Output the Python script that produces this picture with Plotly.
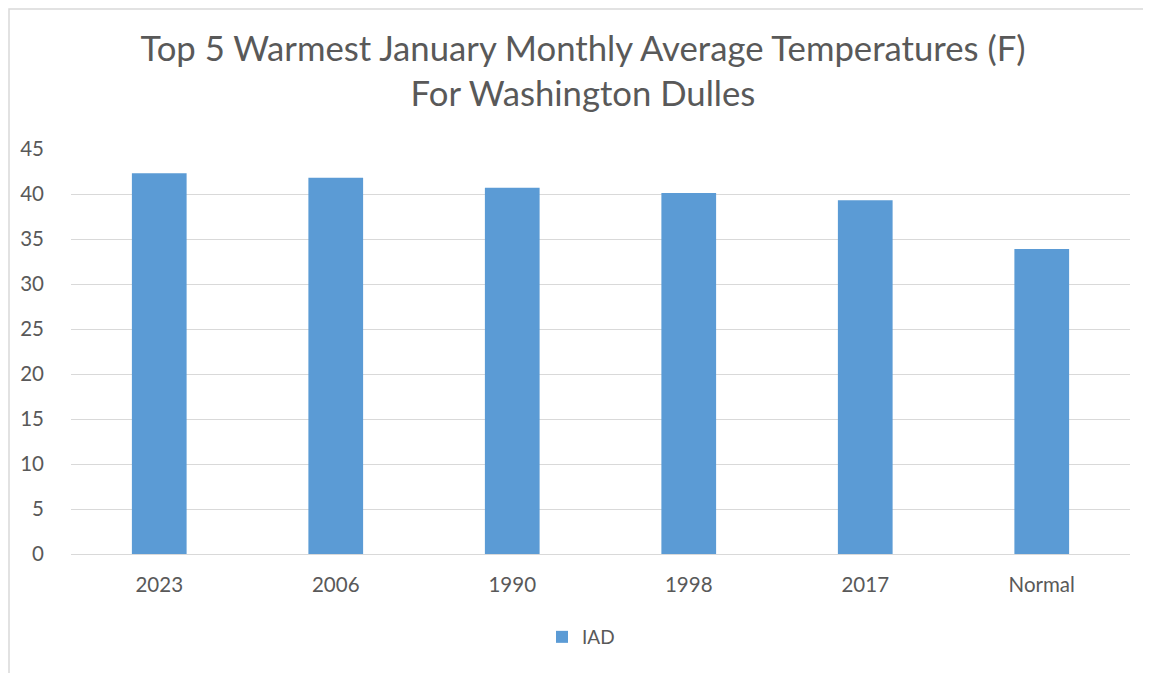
import plotly.graph_objects as go

categories = ["2023", "2006", "1990", "1998", "2017", "Normal"]
values = [42.3, 41.8, 40.7, 40.1, 39.3, 33.9]
series_name = "IAD"
y_ticks = [0, 5, 10, 15, 20, 25, 30, 35, 40, 45]

# page is offset by 8px body margin; positions below are in reference pixels
OFF = 8
W, H = 1151, 673
L, R, T, B = 71 - OFF, 1151 - (1130 - OFF), 149 - OFF, 673 - (554 - OFF)
pw, ph = W - L - R, H - T - B

def px_x(p):
    return (p - OFF - L) / pw

def px_y(p):
    return (H - B - (p - OFF)) / ph

font = "Lato, 'Open Sans', sans-serif"

fig = go.Figure()
fig.add_trace(go.Bar(
    x=categories, y=values, name=series_name,
    marker=dict(color="#5B9BD5", line=dict(width=0)),
))

fig.update_layout(
    width=W, height=H,
    margin=dict(l=L, r=R, t=T, b=B),
    paper_bgcolor="white", plot_bgcolor="white",
    bargap=0.69,
    showlegend=True,
    title=dict(
        text="Top 5 Warmest January Monthly Average Temperatures (F)<br>For Washington Dulles",
        x=px_x(583), xanchor="center", xref="paper",
        y=1 - (60.5 - OFF) / H, yanchor="middle",
        font=dict(family=font, size=34.7, color="#595959"),
    ),
    legend=dict(
        orientation="h", x=px_x(542), xanchor="left", xref="paper",
        y=px_y(637), yanchor="middle",
        font=dict(family=font, size=19, color="#595959"),
        itemwidth=30,
    ),
    font=dict(family=font, color="#595959"),
)
fig.update_xaxes(
    showgrid=False, showline=True, linecolor="#d9d9d9", linewidth=1,
    tickfont=dict(family=font, size=20.5, color="#595959"),
    ticks="", ticklabelstandoff=12,
)
fig.update_yaxes(
    range=[0, 45], tickvals=y_ticks,
    showgrid=True, gridcolor="#d9d9d9", gridwidth=1,
    zeroline=False, showline=False,
    tickfont=dict(family=font, size=20.5, color="#595959"),
    ticks="", ticklabelstandoff=26,
)
fig.add_shape(
    type="rect", xref="paper", yref="paper",
    x0=px_x(9), x1=px_x(1149), y0=px_y(690), y1=px_y(9),
    line=dict(color="#d9d9d9", width=1.5), fillcolor="rgba(0,0,0,0)",
    layer="below",
)
fig.write_html("out.html")
